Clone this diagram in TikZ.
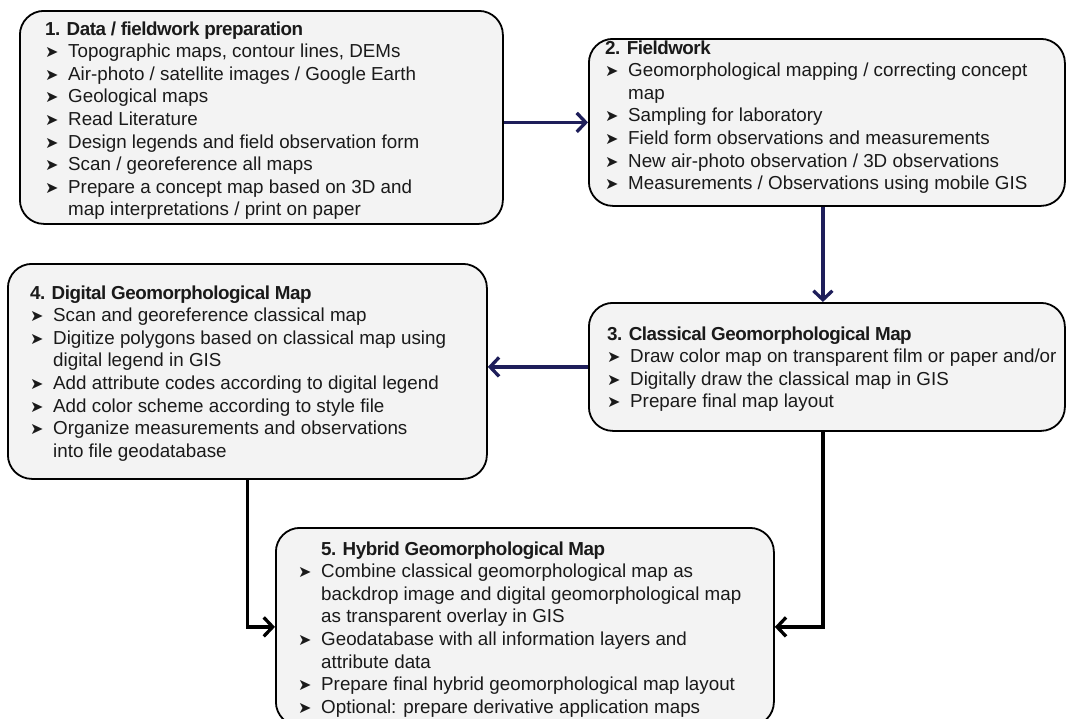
\documentclass[tikz,border=0pt]{standalone}
\usepackage{fontspec}
\setmainfont{Liberation Sans}
\newfontfamily\bulfont{DejaVu Sans}
\newfontfamily\titfont{Liberation Sans}[LetterSpace=-2.5]
\usetikzlibrary{arrows.meta}
\definecolor{boxfill}{HTML}{F3F3F3}
\definecolor{navy}{HTML}{1E1E5A}
\definecolor{txt}{HTML}{1A1A1A}
\newlength\bw
\setlength\bw{23pt}
\newcommand\bul{{\bulfont\fontsize{16}{16}\selectfont\raisebox{0pt}{➤}}}
\newcommand\nl{\hfil\break}
\newcommand\itm[1]{\par\hangindent=\bw\hangafter=1\noindent\makebox[\bw][l]{\bul}#1}
\newcommand\ttl[1]{\noindent{\titfont\bfseries #1}}
\newcommand\blk[1]{\parbox[t]{520pt}{\fontsize{18.8}{22.6}\selectfont\raggedright #1\par}}
\tikzset{
  box/.style={draw=black, line width=1.8pt, rounded corners=24pt, fill=boxfill, inner sep=0pt, anchor=north west},
  txtnode/.style={anchor=base west, inner sep=0pt, text=txt},
  navyarr/.style={draw=navy, line width=3.3pt, -{Straight Barb[length=9pt,width=19pt,line width=3.3pt]}},
  blkarr/.style={draw=black, line width=3.3pt, -{Straight Barb[length=9pt,width=19pt,line width=3.3pt]}}
}
\begin{document}
\begin{tikzpicture}[x=1pt,y=-1pt]
\useasboundingbox (0,0) rectangle (1066,718);
% boxes
\node[box, minimum width=483pt, minimum height=213pt] (b1) at (19,10) {};
\node[box, minimum width=476pt, minimum height=167pt] (b2) at (588,38) {};
\node[box, minimum width=476pt, minimum height=128pt] (b3) at (588,302) {};
\node[box, minimum width=479pt, minimum height=215pt] (b4) at (7,263) {};
\node[box, minimum width=498pt, minimum height=198pt] (b5) at (275,527) {};
% texts
\node[txtnode] (t1) at (45,35) {\blk{%
\ttl{1. Data / fieldwork preparation}
\itm{Topographic maps, contour lines, DEMs}
\itm{Air-photo / satellite images / Google Earth}
\itm{Geological maps}
\itm{Read Literature}
\itm{Design legends and field observation form}
\itm{Scan / georeference all maps}
\itm{Prepare a concept map based on 3D and\nl map interpretations / print on paper}}};
\node[txtnode] (t2) at (605,54) {\blk{%
\ttl{2. Fieldwork}
\itm{Geomorphological mapping / correcting concept\nl map}
\itm{Sampling for laboratory}
\itm{Field form observations and measurements}
\itm{New air-photo observation / 3D observations}
\itm{Measurements / Observations using mobile GIS}}};
\node[txtnode] (t3) at (607,340) {\blk{%
\ttl{3. Classical Geomorphological Map}
\itm{Draw color map on transparent film or paper and/or}
\itm{Digitally draw the classical map in GIS}
\itm{Prepare final map layout}}};
\node[txtnode] (t4) at (30,299) {\blk{%
\ttl{4. Digital Geomorphological Map}
\itm{Scan and georeference classical map}
\itm{Digitize polygons based on classical map using\nl digital legend in GIS}
\itm{Add attribute codes according to digital legend}
\itm{Add color scheme according to style file}
\itm{Organize measurements and observations\nl into file geodatabase}}};
\node[txtnode] (t5) at (298,555) {\blk{%
\ttl{\hspace*{\bw}5. Hybrid Geomorphological Map}
\itm{Combine classical geomorphological map as\nl backdrop image and digital geomorphological map\nl as transparent overlay in GIS}
\itm{Geodatabase with all information layers and\nl attribute data}
\itm{Prepare final hybrid geomorphological map layout}
\itm{Optional: prepare derivative application maps}}};
% connectors
\draw[navyarr] (b1.east |- b2.west) -- (b2.west);
\draw[navyarr] ([xshift=-4pt]b2.south) -- ([xshift=-4pt]b3.north);
\draw[navyarr] (b3.west) -- (b3.west -| b4.east);
\draw[blkarr] (b4.south) |- (b5.west);
\draw[blkarr] ([xshift=-4pt]b3.south) |- (b5.east);
\end{tikzpicture}
\end{document}
